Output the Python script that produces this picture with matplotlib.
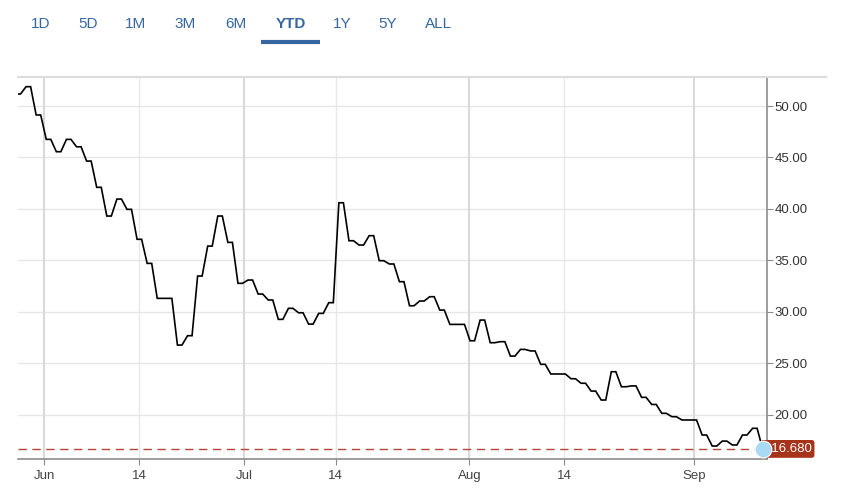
import matplotlib.pyplot as plt
from matplotlib.lines import Line2D
import numpy as np

# daily closes, trading days from late May to mid September
close = [51.17, 51.88, 49.13, 46.76, 45.56, 46.76, 46.04, 44.65, 42.10, 39.31,
         40.96, 39.96, 37.05, 34.71, 31.31, 31.31, 26.77, 27.68, 33.48, 36.39,
         39.31, 36.75, 32.77, 33.09, 31.73, 31.15, 29.27, 30.34, 29.91, 28.81,
         29.85, 30.89, 40.60, 36.91, 36.49, 37.40, 34.97, 34.65, 32.93, 30.59,
         31.05, 31.47, 30.17, 28.78, 28.78, 27.19, 29.20, 27.00, 27.10, 25.70,
         26.35, 26.20, 24.90, 23.96, 23.96, 23.50, 23.06, 22.30, 21.43, 24.18,
         22.72, 22.80, 21.69, 21.00, 20.14, 19.81, 19.49, 19.49, 18.03, 16.96,
         17.44, 17.06, 18.03, 18.68, 16.68]
last_price = 16.680

tick_labels = ["Jun", "14", "Jul", "14", "Aug", "14", "Sep"]
tick_pos = [2.78, 12.22, 22.63, 31.69, 44.93, 54.34, 67.2]
month_ticks = [True, False, True, False, True, False, True]

ranges = ["1D", "5D", "1M", "3M", "6M", "YTD", "1Y", "5Y", "ALL"]
range_x = [41, 88, 136, 185, 236, 291, 342, 388, 439]
active = "YTD"

font = "Liberation Sans"
blue = "#36679f"

fig = plt.figure(figsize=(8.5, 4.97), dpi=100)
ax = fig.add_axes([18 / 850, 37.7 / 497, 748.7 / 850, 382.6 / 497])

# each session drawn as a short flat step, last point alone
n = len(close)
k = np.arange(n - 1)
xs = np.column_stack([k, k + 0.45]).ravel()
ys = np.repeat(close[:-1], 2)
xs = np.append(xs, n - 1)
ys = np.append(ys, close[-1])
ax.plot(xs, ys, color="black", lw=1.2, zorder=3, solid_joinstyle="miter")

ax.set_xlim(0.2, 74.4)
ax.set_ylim(15.67, 52.85)

# grid
for y in range(20, 51, 5):
    ax.axhline(y, color="#e6e6e6", lw=1, zorder=0)
for p, m in zip(tick_pos, month_ticks):
    if m:
        ax.axvline(p, color="#d9d9d9", lw=1.5, zorder=0)
    else:
        ax.axvline(p, color="#e8e8e8", lw=1, zorder=0)

# last price line, marker and label (box starts under the marker)
ax.axhline(last_price, color="#b5463a", lw=1, ls=(0, (6, 4)), zorder=2)
ax.plot([n - 1], [last_price], "o", ms=12, color="#a9daf3", mec="white",
        mew=0.8, zorder=5, clip_on=False)
ax.text(n - 1 + 0.1, last_price, f"  {last_price:.3f}", color="white",
        fontsize=9.5, family=font, va="center", ha="left", zorder=4,
        bbox=dict(boxstyle="round,pad=0.22,rounding_size=0.2",
                  fc="#a8331b", ec="none"))

# axes
for s in ["top", "left"]:
    ax.spines[s].set_visible(False)
ax.spines["right"].set_color("#8c8c8c")
ax.spines["bottom"].set_color("#8c8c8c")
ax.spines["right"].set_linewidth(1.2)
ax.spines["bottom"].set_linewidth(1.2)
ax.yaxis.tick_right()
ax.set_yticks(range(20, 51, 5))
ax.set_yticklabels([f"{v:.2f}" for v in range(20, 51, 5)])
ax.set_xticks(tick_pos)
ax.set_xticklabels(tick_labels)
ax.tick_params(axis="y", length=4, color="#8c8c8c", pad=1.5,
               labelsize=9.5, labelcolor="#333333")
ax.tick_params(axis="x", length=4, color="#8c8c8c", pad=4,
               labelsize=9.5, labelcolor="#444444")
for lab in ax.get_xticklabels() + ax.get_yticklabels():
    lab.set_family(font)

# top border line running past the axis
fig.add_artist(Line2D([18 / 850, 826 / 850], [1 - 76.7 / 497] * 2,
                      color="#dcdcdc", lw=1.5))

# range selector
for r, x in zip(ranges, range_x):
    fig.text(x / 850, 1 - 24 / 497, r, ha="center", va="center",
             fontsize=11, family=font, color=blue,
             weight="bold" if r == active else "normal")
fig.add_artist(Line2D([261 / 850, 320 / 850], [1 - 42 / 497] * 2,
                      color=blue, lw=3, solid_capstyle="butt"))

fig.savefig("out.png", dpi=100, facecolor="white")
